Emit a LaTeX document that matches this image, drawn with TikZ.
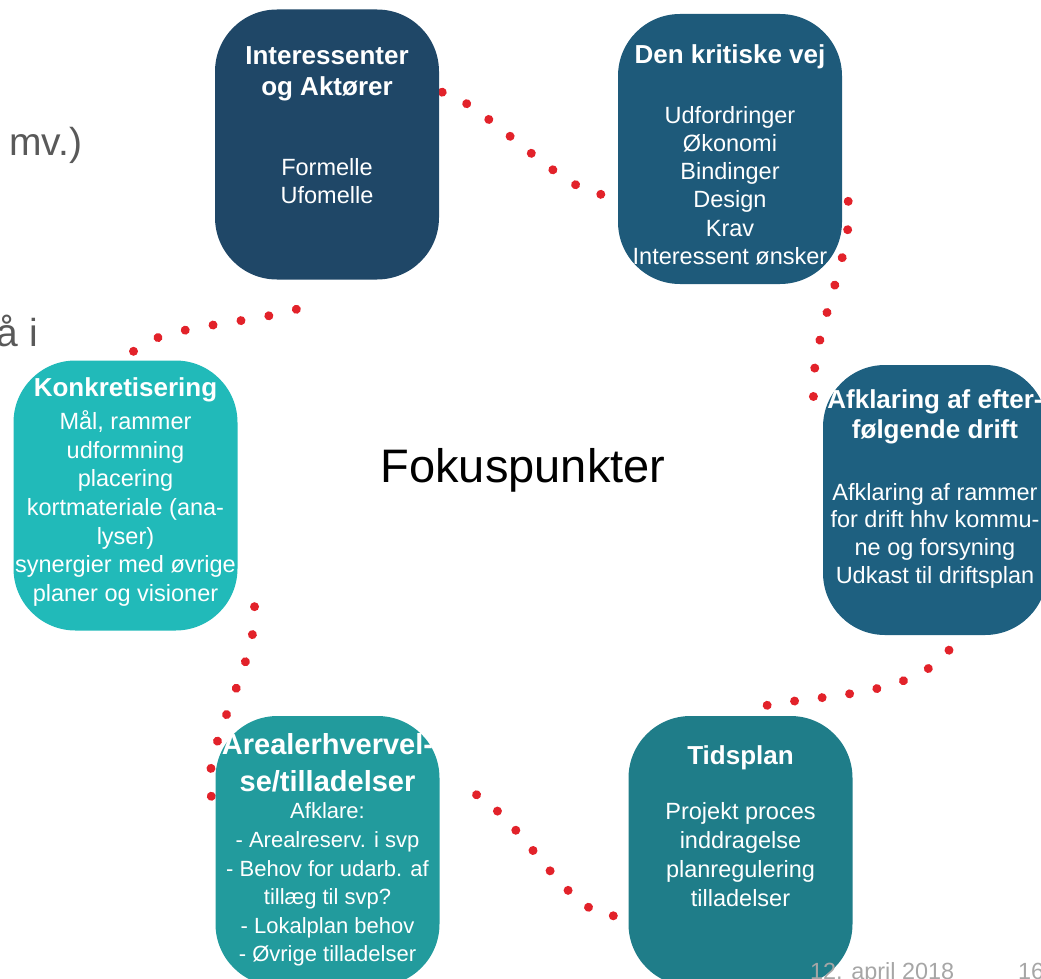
\documentclass[tikz,border=0pt]{standalone}
\usepackage{fontspec}
\setmainfont{Liberation Sans}
\usetikzlibrary{positioning,backgrounds,decorations.markings}

\definecolor{navy}{HTML}{1F4767}
\definecolor{petrol}{HTML}{1E5A7A}
\definecolor{petrolb}{HTML}{1E6080}
\definecolor{tealdark}{HTML}{1F7D89}
\definecolor{tealmid}{HTML}{229B9D}
\definecolor{tealbright}{HTML}{21BAB9}
\definecolor{dotred}{HTML}{E2222A}
\definecolor{slidegray}{HTML}{595959}
\definecolor{footgray}{HTML}{A6A6A6}

\tikzset{
  box/.style={rectangle, rounded corners=62pt, minimum width=224pt, minimum height=270pt, inner sep=0pt},
  hd/.style={text=white, align=center, inner sep=0pt, font=\fontsize{26}{31}\selectfont\bfseries},
  bd/.style={text=white, align=center, inner sep=0pt, font=\fontsize{23.5}{28.5}\selectfont},
  slidetxt/.style={text=slidegray, inner sep=0pt, font=\fontsize{39}{46}\selectfont},
  foot/.style={text=footgray, inner sep=0pt, font=\fontsize{23.4}{28}\selectfont},
  dotlink/.style={postaction={decorate, decoration={markings,
      mark=between positions 0 and 1 step 0.9999/#1 with {\fill[dotred] (0,0) circle (4.5pt);}}}},
}

\begin{document}
\begin{tikzpicture}[x=1pt,y=-1pt]
    \useasboundingbox (0,0) rectangle (1041,979);
    \clip (0,0) rectangle (1041,979);

    \node[slidetxt, anchor=base west] (mv) at (9,155) {mv.)};
    \node[slidetxt, anchor=base west] (aai) at (-3.6,346) {å i};

    \node[box, fill=navy] (inter) at (327,144.5) {};
    \node[box, fill=petrol] (krit) at (730,149) {};
    \node[box, fill=petrolb] (drift) at (935,500) {};
    \node[box, fill=tealdark] (tid) at (740.5,851) {};
    \node[box, fill=tealmid] (areal) at (327.5,851) {};
    \node[box, fill=tealbright] (konk) at (125.5,495.5) {};

    \node[hd, below=37pt of inter.north] (interhd) {Interessenter\\og Aktører};
    \node[bd, font=\fontsize{23.5}{28}\selectfont, below=149pt of inter.north] (interbd) {Formelle\\Ufomelle};

    \node[hd, below=31pt of krit.north] (krithd) {Den kritiske vej};
    \node[bd, font=\fontsize{23.5}{28.3}\selectfont, below=92pt of krit.north] (kritbd)
        {Udfordringer\\Økonomi\\Bindinger\\Design\\Krav\\Interessent ønsker};

    \node[hd, font=\fontsize{26}{30}\selectfont\bfseries, below=25pt of drift.north] (drifthd)
        {Afklaring af efter-\\følgende drift};
    \node[bd, font=\fontsize{23.5}{27.8}\selectfont, below=118pt of drift.north] (driftbd)
        {Afklaring af rammer\\for drift hhv kommu-\\ne og forsyning\\Udkast til driftsplan};

    \node[hd, below=30pt of tid.north] (tidhd) {Tidsplan};
    \node[bd, font=\fontsize{23.5}{29.3}\selectfont, below=86pt of tid.north] (tidbd)
        {Projekt proces\\inddragelse\\planregulering\\tilladelser};

    \node[hd, font=\fontsize{29}{37}\selectfont\bfseries, below=17pt of areal.north] (arealhd)
        {Arealerhvervel-\\se/tilladelser};
    \node[bd, font=\fontsize{22}{28.6}\selectfont, below=87pt of areal.north] (arealbd)
        {Afklare:\\- Arealreserv. i svp\\- Behov for udarb. af\\tillæg til svp?\\- Lokalplan behov\\- Øvrige tilladelser};

    \node[hd, below=17pt of konk.north] (konkhd) {Konkretisering};
    \node[bd, font=\fontsize{23.5}{28.7}\selectfont, below=50pt of konk.north] (konkbd)
        {Mål, rammer\\udformning\\placering\\kortmateriale (ana-\\lyser)\\synergier med øvrige\\planer og visioner};

    \node[font=\fontsize{47}{56}\selectfont, inner sep=0pt, anchor=base] (focus) at (523,482) {Fokuspunkter};

    % dotted links between the boxes
    \begin{scope}[on background layer]
    \path[dotlink=7] ([xshift=3pt]inter.25) .. controls (480,100) and (560,190) .. ([xshift=-17pt]krit.202);
    \path[dotlink=8] ([xshift=6pt]krit.-25) .. controls (856,260) and (795,360) .. ([xshift=-4pt]drift.146);
    \path[dotlink=8] ([xshift=14pt,yshift=-15pt]drift.south) .. controls (905,705) and (790,692) .. ([yshift=3pt]tid.north);
    \path[dotlink=8] ([xshift=-15pt]tid.210) .. controls (560,915) and (510,790) .. ([xshift=12pt]areal.30);
    \path[dotlink=8] ([xshift=-4pt]areal.154) .. controls (198,740) and (280,635) .. ([xshift=9pt]konk.-37);
    \path[dotlink=7] ([xshift=8pt,yshift=9pt]konk.north) .. controls (165,320) and (285,325) .. ([xshift=-5pt,yshift=-18pt]inter.south);
    \end{scope}

    \node[foot, anchor=base west] (date) at (810,979) {12. april 2018};
    \node[foot, anchor=base west] (pageno) at (1018,979) {16};
\end{tikzpicture}
\end{document}
